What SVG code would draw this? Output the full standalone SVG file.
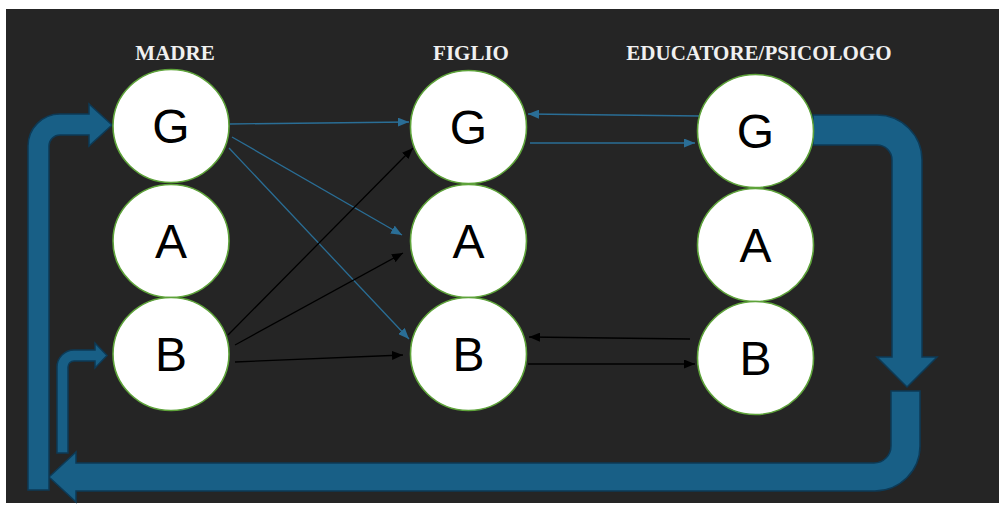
<svg xmlns="http://www.w3.org/2000/svg" width="999" height="506" viewBox="0 0 999 506">
  <style>
    .title { font-family: "Liberation Serif", "Times New Roman", serif; font-weight: bold; font-size: 21px; fill: #f0f0f0; text-anchor: middle; }
    .node ellipse { fill: #ffffff; stroke: #5ea33a; stroke-width: 1.6; }
    .node text { font-family: "Liberation Sans", Arial, sans-serif; font-size: 48px; fill: #000000; text-anchor: middle; }
    .flow { fill: #185f86; stroke: #0d3a56; stroke-width: 1.5; stroke-linejoin: miter; }
    .blue { stroke: #2a6e96; stroke-width: 1.3; fill: none; marker-end: url(#headBlue); }
    .black { stroke: #000000; stroke-width: 1.3; fill: none; marker-end: url(#headBlack); }
  </style>
  <defs>
    <marker id="headBlue" markerUnits="userSpaceOnUse" markerWidth="11" markerHeight="9" refX="11" refY="4.5" orient="auto">
      <path d="M0,0 L11,4.5 L0,9 z" fill="#2a6e96"/>
    </marker>
    <marker id="headBlack" markerUnits="userSpaceOnUse" markerWidth="11" markerHeight="9" refX="11" refY="4.5" orient="auto">
      <path d="M0,0 L11,4.5 L0,9 z" fill="#000000"/>
    </marker>
  </defs>

  <!-- canvas -->
  <rect x="0" y="0" width="999" height="506" fill="#ffffff"/>
  <rect x="6" y="9" width="993" height="494" fill="#252525"/>

  <!-- column titles -->
  <text class="title" x="175" y="60">MADRE</text>
  <text class="title" x="471" y="60">FIGLIO</text>
  <text class="title" x="759" y="60">EDUCATORE/PSICOLOGO</text>

  <!-- feedback loop arrows -->
  <g id="loop">
    <path class="flow" d="M 813 115 H 877 A 45 45 0 0 1 922 160 V 357 H 937 L 907 387 L 877 357 H 892 V 160 A 15 15 0 0 0 877 145 H 813 Z"/>
    <path class="flow" d="M 891 391 H 920 V 446 A 45 45 0 0 1 875 491 H 76 V 502 L 49 477 L 76 452 V 463 H 874 A 17 17 0 0 0 891 446 Z"/>
    <path class="flow" d="M 28 490 V 146 A 32 32 0 0 1 60 114 H 89 V 104 L 112 125 L 89 146 V 135 H 60 A 11 11 0 0 0 49 146 V 490 Z"/>
    <path class="flow" d="M 57 453 V 367 A 17 17 0 0 1 74 350 H 95 V 343 L 107 355.5 L 95 368 V 361 H 74 A 6 6 0 0 0 68 367 V 453 Z"/>
  </g>

  <!-- connectors -->
  <g id="connectors">
    <line class="blue" x1="230" y1="124" x2="409" y2="122"/>
    <line class="blue" x1="232" y1="137" x2="402" y2="235"/>
    <line class="blue" x1="229" y1="148" x2="409" y2="339"/>
    <line class="blue" x1="700" y1="116" x2="528" y2="114"/>
    <line class="blue" x1="530" y1="143" x2="695" y2="143"/>
    <line class="black" x1="228" y1="335" x2="413" y2="148"/>
    <line class="black" x1="235" y1="345" x2="403" y2="253"/>
    <line class="black" x1="235" y1="362" x2="403" y2="355"/>
    <line class="black" x1="690" y1="339" x2="529" y2="337"/>
    <line class="black" x1="528" y1="364" x2="695" y2="364"/>
  </g>

  <!-- MADRE -->
  <g id="madre-g" class="node"><ellipse cx="171" cy="126" rx="58" ry="56.5"/><text x="171" y="143">G</text></g>
  <g id="madre-a" class="node"><ellipse cx="171" cy="241" rx="58" ry="56.5"/><text x="171" y="258">A</text></g>
  <g id="madre-b" class="node"><ellipse cx="171" cy="354" rx="58" ry="56.5"/><text x="171" y="371">B</text></g>

  <!-- FIGLIO -->
  <g id="figlio-g" class="node"><ellipse cx="468.5" cy="127" rx="58" ry="56.5"/><text x="468.5" y="144">G</text></g>
  <g id="figlio-a" class="node"><ellipse cx="468.5" cy="241" rx="58" ry="56.5"/><text x="468.5" y="258">A</text></g>
  <g id="figlio-b" class="node"><ellipse cx="468.5" cy="354" rx="58" ry="56.5"/><text x="468.5" y="371">B</text></g>

  <!-- EDUCATORE/PSICOLOGO -->
  <g id="edu-g" class="node"><ellipse cx="755.5" cy="131" rx="58" ry="56.5"/><text x="755.5" y="148">G</text></g>
  <g id="edu-a" class="node"><ellipse cx="755.5" cy="245" rx="58" ry="56.5"/><text x="755.5" y="262">A</text></g>
  <g id="edu-b" class="node"><ellipse cx="755.5" cy="358" rx="58" ry="56.5"/><text x="755.5" y="375">B</text></g>
</svg>
